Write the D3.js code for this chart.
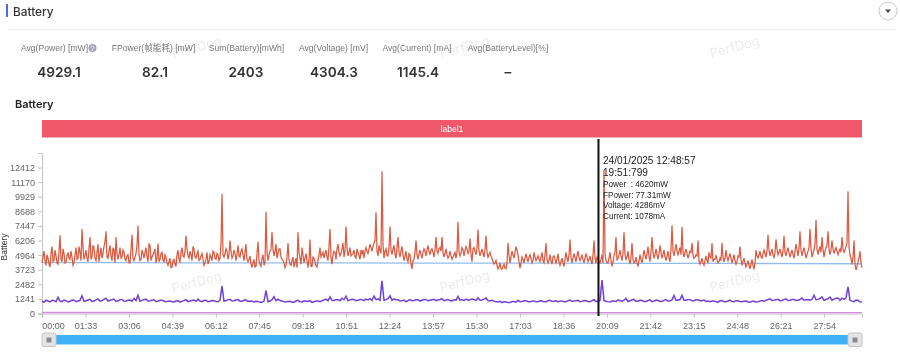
<!DOCTYPE html>
<html>
<head>
<meta charset="utf-8">
<script src="https://cdn.jsdelivr.net/npm/d3@7"></script>
<style>
  html, body { margin: 0; padding: 0; background: #fff; overflow: hidden; }
  svg { display: block; filter: blur(0.35px); }
  text { font-family: "Liberation Sans", sans-serif; }
  .ui { font-family: Inter, "Noto Sans CJK SC", sans-serif; }
</style>
</head>
<body>
<script>
// chart data
const xTickLabels = ["00:00","01:33","03:06","04:39","06:12","07:45","09:18","10:51","12:24","13:57","15:30","17:03","18:36","20:09","21:42","23:15","24:48","26:21","27:54"];
const yTicks = [0,1241,2482,3723,4964,6206,7447,8688,9929,11170,12412];
const durationSec = 1755;
const cursorSec = 1191;

const metricNames = ["Avg(Power) [mW]","FPower(帧能耗) [mW]","Sum(Battery)[mWh]","Avg(Voltage) [mV]","Avg(Current) [mA]","Avg(BatteryLevel)[%]"];
const metricValues = ["4929.1","82.1","2403","4304.3","1145.4","–"];
const tipLines = ["24/01/2025 12:48:57","19:51:799","Power  : 4620mW","FPower: 77.31mW","Voltage: 4286mV","Current: 1078mA"];

// samples on even pixels of the trace
const powerA = [
4300,5300,4100,4700,3950,5700,4500,4900,4200,6650,4400,5100,4350,5200,4600,4800,4300,5600,4700,5200,
7180,4600,5400,4400,6500,4800,5600,4500,5900,5000,4700,5700,7000,4700,5800,4500,5400,6500,4600,5600,
4800,5200,4500,5000,4300,6700,4500,5100,7460,4500,5400,4700,5600,4400,5800,4800,5200,4300,5950,4600,
5200,4400,4800,4100,4700,3950,4600,4000,5400,4400,5600,4800,6600,4900,5300,4500,5500,4700,5300,4600,
5100,4100,4600,4200,5000,4500,5200,4600,5000,4700,10160,4800,5500,4600,6200,4700,5400,4500,5800,4800,
5500,4500,5900,4400,4900,3900,4600,4000,6100,4200,4700,4100,8650,4500,5300,6900,4900,5900,5100,5500,
4600,4300,4100,6000,4200,4500,3950,4700,6900,4700,5600,4300,5100,3900,6300,4000,4700,4050,4500,5600,
5000,4700,5400,4500,7180,4200,5300,4600,5900,4900,5500,4800,7400,4900,5600,5000,5400,4700,5200,4600,
5100,4700,5600,5100,5900,5300,6000,8600,4900,5400,12100,4700,5500,4900,7400,5000,5800,4700,6500,4800,
5700,4500,5300,4400,5000,3800,4600,6200,4600,5400,4700,5500,4900,5800,5000,5500,4800,6500,5100,5600,
6500,4800,5500,4700,5300,4600,5000,4700,7800,4900,5600,4900,5700,5100,6400,4400,5600,5000,7150,4900,
5500,4800,6600,4800,5200,4700,4200,4500,3800,4300,3750,4200,3800,6000,4300,5300,4700,5700,5000,3850,
4800,4300,5100,4400,5000,4300,5200,4500,4900,4400,5200,4300,6000,4300,5000,4200,4900,4300,5100,4100,
4700,4000,5200,4400,6300,4300,5100,4400,5300,4500,5000,4300,5100,4400,4900,4200,6200,4300,4620,4300,
5000,12200,4500,4300,5200,4000,4900,6500,4700,5400,4500,6900,4600,5300,4200,6000,4300,4800,4000,5000,
4300,5400,4600,5700,4400,6500,4700,5500,4600,5800,4700,5400,4500,5300,4400,7500,4900,5900,5000,5600,
7350,4800,5500,4700,5300,6000,4700,5000,6200,4200,4700,4100,4900,4300,4800,6000,4600,4900,4300,4700,
6000,4400,5400,4500,5100,4300,5000,4200,4900,5700,4100,4700,3950,4500,3800,4600,3750,5400,4700,5300,
4700,5400,4800,6700,4900,5500,4700,6300,5000,5500,4800,6600,4900,5600,4800,5400,4700,5900,4900,7000,
4900,5600,4700,5300,7200,4800,5400,7950,5000,5700,6500,4800,5600,7000,5000,6200,5100,5600,5000,5500,
6500,5200,5700,10400,5000,4200,6200,3700,4400,5300,3900
];
// samples on odd pixels of the trace
const powerB = [
4800,4500,5000,4200,5100,4400,5400,4300,5200,4600,5500,4300,4900,4700,5300,4100,5000,4600,5700,4500,
5600,4900,4700,5500,4600,5800,4700,5200,4400,5600,5100,6100,4800,5300,4900,5600,4300,5100,5000,4700,
5400,4600,4900,4300,5500,4700,4800,5800,5000,4600,5100,5200,4800,5900,4500,5000,5500,4700,4400,5100,
4500,5000,4300,4400,3900,4500,4200,5000,4600,5200,4900,5300,5500,4700,5000,5700,4800,5100,4500,4900,
4600,4300,5200,4400,4800,5300,4700,5100,4500,5900,5000,5100,5300,5000,5300,4900,5100,5000,4900,5300,
5000,5200,4600,4600,4200,4300,3950,5100,4500,4000,5000,4300,5200,5000,5400,5500,5300,4700,5500,4800,
4500,3900,4800,4600,4100,4800,4300,3900,5200,4200,5000,4700,4500,4600,4000,4800,4400,3950,5000,4800,
5200,5100,4800,5700,4700,5000,5200,5500,5200,5100,6000,5300,5600,5200,4900,5100,4800,5500,4900,5400,
5400,5300,5300,5500,5600,5700,6200,5300,5800,5100,5900,5300,4900,5600,5400,5500,5000,5600,5200,5300,
5000,4900,4600,5100,4200,4500,5200,5000,5100,5000,5200,5300,5400,5300,5400,5200,5400,5300,5500,5300,
5200,5100,5000,4900,4900,4800,5200,5200,5300,5100,5400,5300,5500,5300,5000,5500,5300,5600,5300,5200,
5100,5400,5200,5000,4900,4400,4300,4100,4000,3800,4000,3850,4300,5000,4800,5000,5200,5400,4400,4300,
4600,4700,4700,4800,4700,4500,4800,4700,4600,4800,4500,5000,4600,4500,4500,4800,4600,4600,4400,4400,
4300,4600,4700,5000,4800,4700,4800,4900,4800,4700,4600,4700,4800,4600,4500,5000,4700,4800,4400,4600,
4300,5100,4300,4700,4500,4400,5200,4500,5000,4900,5100,5000,4800,4600,4800,4600,4400,4300,4500,4600,
4800,5000,5100,4900,5300,5200,5000,5000,5100,5200,5000,4800,4900,4700,5500,5300,5400,5300,5300,5000,
5200,5200,5100,5000,5200,5000,4800,4900,4500,4400,4300,4500,4500,5200,4700,4400,4600,4600,4400,4500,
4800,4700,4800,4800,4700,4600,4500,4400,4800,4600,4400,4300,4200,4100,4200,4100,4300,4900,5000,4800,
5100,5100,5300,5400,5200,5000,5200,5500,5200,5100,5300,5200,5300,5200,5100,5000,5300,5400,5500,5400,
5300,5200,5000,5600,5500,5100,5900,5500,5400,5200,5500,5300,5800,5500,5400,5500,5400,5300,5300,5200,
5500,5400,6000,5700,4700,4800,4200,4000,4700,4300
];

const currentA = [
1050,1130,980,1090,1380,1010,1100,1040,1130,1060,1500,1080,1210,1060,1240,1100,1300,1120,1230,1080,
1190,1060,1150,1290,1560,1120,1220,1090,1160,1050,1130,1000,1060,980,1090,1030,1180,1060,1140,1220,
1010,1120,1040,1090,1000,2320,1110,1200,1090,1180,1040,1160,1060,980,1030,960,1950,1060,1420,1220,
1070,980,1050,960,1120,970,1050,1100,1000,1060,1090,1220,1420,1110,1180,1300,1480,1160,1200,1130,
1180,1220,1270,1480,1240,2780,1180,1500,1240,1170,1090,1000,1180,1110,1170,1130,1180,1130,1210,1150,
1260,1140,1100,1180,1460,1180,1230,1170,1190,1340,1150,1320,1090,1050,970,930,980,930,1020,1120,
1010,1090,1000,1070,990,1060,1000,1130,1040,1000,1070,990,1150,1060,1120,1030,1090,1010,1170,1060,
2850,1050,980,1060,1160,1050,1290,1080,1200,1040,1100,1030,1160,1060,1100,1040,1190,1080,1530,1150,
1540,1130,1180,1090,1160,1080,1030,1000,1070,970,1110,1000,1130,1010,1080,1010,1060,950,1040,1000,
1100,1120,1250,1130,1210,1110,1250,1130,1200,1120,1320,1160,1130,1550,1200,1420,1190,1400,1220,1310,
1300,1340,1120,1010,1120,980
];
const currentB = [
960,1060,1120,1000,1060,1150,990,1140,1010,1120,1030,1150,1020,1160,1050,1200,1060,1170,1030,1180,
1040,1120,1050,1100,1040,1180,1060,1130,1020,1120,1060,1050,990,1060,970,1120,1010,1100,1030,1060,
1100,1000,1110,1020,1130,1060,1160,1060,1150,1050,1130,1020,1050,1040,950,1060,1000,1170,1090,1100,
1000,1030,960,1060,990,1080,1020,950,1070,1000,1150,1080,1100,1180,1090,1170,1090,1210,1080,1190,
1090,1160,1120,1180,1110,1130,1260,1120,1170,1070,1150,1090,1080,1170,1060,1190,1080,1170,1100,1190,
1090,1180,1070,1120,1130,1090,1130,1230,1100,1130,1220,1080,1130,990,1040,1000,930,1020,960,1000,
1080,1000,1050,990,1080,990,1090,1030,1080,1050,990,1090,1020,1080,1010,1100,1020,1090,1010,1100,
1100,1010,1060,1020,1090,1130,1020,1170,1040,1120,1020,1110,1010,1140,1030,1120,1040,1160,1110,1190,
1120,1190,1090,1170,1090,1140,1060,1060,1000,1080,1000,1060,1020,1090,1020,1050,980,1040,980,1050,
1040,1190,1100,1180,1090,1200,1100,1190,1110,1190,1130,1190,1210,1170,1270,1120,1250,1130,1290,1120,
1200,2260,1050,1150,1000
];

const voltage = [4325,4320,4310,4300,4300,4290,4280,4286,4270,4260,4250,4230];
const fpower = [84,83,82,82,81,82,82,80,81,80,79,78];

const interleave = (a, b)=>d3.merge(a.map((v,i)=>i < b.length ? [v, b[i]] : [v]));
const power = interleave(powerA, powerB);
const current = interleave(currentA, currentB);

const w = 900, h = 352;
const m = {left: 42, right: 862, top: 153, bottom: 313.5};

const svg = d3.select("body").append("svg").attr("width", w).attr("height", h);

const x = d3.scaleLinear().domain([0, durationSec]).range([m.left, m.right]);
const y = d3.scaleLinear().domain([0, 13651]).range([m.bottom, m.top]);

// header
svg.append("rect").attr("x", 6).attr("y", 4).attr("width", 2).attr("height", 13).attr("fill", "#4a6ee0");
svg.append("text").attr("class", "ui").attr("x", 13).attr("y", 15.5).attr("font-size", 11.8).attr("font-weight", 500).attr("fill", "#333").text("Battery");
svg.append("line").attr("x1", 8).attr("x2", 896).attr("y1", 29.5).attr("y2", 29.5).attr("stroke", "#eeeeee");
svg.append("circle").attr("cx", 888).attr("cy", 11).attr("r", 9).attr("fill", "#fff").attr("stroke", "#c8c8c8");
svg.append("path").attr("d", "M885,9.5h6l-3,3.5z").attr("fill", "#444");

// watermarks
const marks = [[197,48],[465,48],[735,48],[197,283],[465,282],[735,282]];
svg.selectAll(".mark").data(marks).enter().append("text")
    .attr("class", "ui mark")
    .attr("transform", (d)=>`translate(${d[0]},${d[1]}) rotate(-15)`)
    .attr("text-anchor", "middle")
    .attr("dominant-baseline", "middle")
    .attr("font-size", 13)
    .attr("fill", "#ececec")
    .text("PerfDog");

// metric row
const metricX = [59,155,246,334,418,508];
const labelX = [54.5,153.5,246.5,333.5,417,508];
svg.selectAll(".mname").data(metricNames).enter().append("text")
    .attr("class", "mname")
    .attr("x", (d,i)=>labelX[i]).attr("y", 51)
    .attr("text-anchor", "middle").attr("font-size", 8.6).attr("fill", "#777")
    .style("font-family", '"Liberation Sans", "Noto Sans CJK SC", sans-serif')
    .text((d)=>d);
svg.selectAll(".mval").data(metricValues).enter().append("text")
    .attr("class", "ui mval")
    .attr("x", (d,i)=>metricX[i]).attr("y", 77)
    .attr("text-anchor", "middle").attr("font-size", 13.6).attr("font-weight", 600).attr("fill", "#333")
    .text((d)=>d);
svg.append("circle").attr("cx", 92.5).attr("cy", 48).attr("r", 4).attr("fill", "#a9a9b5");
svg.append("text").attr("x", 92.5).attr("y", 50.5).attr("text-anchor", "middle").attr("font-size", 7).attr("fill", "#fff").text("?");

svg.append("text").attr("class", "ui").attr("x", 15).attr("y", 108).attr("font-size", 11).attr("font-weight", 600).attr("fill", "#222").text("Battery");

// label band
svg.append("rect").attr("x", m.left).attr("y", 120).attr("width", m.right - m.left).attr("height", 17.5).attr("fill", "#ef5868");
svg.append("text").attr("x", (m.left + m.right) / 2).attr("y", 132).attr("text-anchor", "middle").attr("font-size", 8.5).attr("fill", "#fff").text("label1");

// axes
const toSec = (s)=>+s.slice(0,2)*60 + +s.slice(3);
const xAxis = d3.axisBottom(x).tickValues(xTickLabels.map(toSec)).tickFormat((d,i)=>xTickLabels[i]).tickSizeOuter(0).tickSize(4);
const yAxis = d3.axisLeft(y).tickValues(yTicks).tickFormat((d)=>d).tickSizeOuter(0).tickSize(4);

const gx = svg.append("g").attr("transform", `translate(0,${m.bottom})`).call(xAxis);
const gy = svg.append("g").attr("transform", `translate(${m.left},0)`).call(yAxis);
[gx, gy].forEach((g)=>{
    g.selectAll("path,line").attr("stroke", "#c4c4c4");
    g.selectAll("text").attr("fill", "#666").attr("font-size", 9).attr("font-family", "Liberation Sans");
});
gx.selectAll("text").attr("dy", "0.95em");
gx.selectAll("text").filter((d,i)=>i===0).attr("dx", 11);
gy.selectAll("text").attr("x", -7);

svg.append("text")
    .attr("transform", "translate(7,247) rotate(-90)")
    .attr("text-anchor", "middle").attr("font-size", 8.5).attr("fill", "#333")
    .text("Battery");

// series
const drawLine = (vals, color, width, op)=>{
    const line = d3.line()
        .x((d,i)=>x(i * durationSec / (vals.length - 1)))
        .y((d)=>y(d));
    svg.append("path").datum(vals)
        .attr("fill", "none").attr("stroke", color)
        .attr("stroke-width", width).attr("stroke-opacity", op)
        .attr("d", line);
};
drawLine(voltage, "#8fbeee", 1.3, 1);
drawLine(fpower, "#d78ae0", 1.3, 1);
drawLine(power, "#dd5a42", 1.25, 1);
drawLine(current, "#7040d8", 1.5, 1);

// cursor and its tooltip
svg.append("line").attr("x1", x(cursorSec)).attr("x2", x(cursorSec)).attr("y1", 139).attr("y2", 316)
    .attr("stroke", "#111").attr("stroke-width", 2);
const tipY = [163.5,175.5,186.5,197.5,207.5,218.5];
const tipSize = [10.1,10.1,8.2,8.2,8.2,8.2];
svg.selectAll(".tip").data(tipLines).enter().append("text")
    .attr("class", "tip")
    .attr("x", x(cursorSec) + 4.5).attr("y", (d,i)=>tipY[i])
    .attr("font-size", (d,i)=>tipSize[i]).attr("fill", "#222")
    .style("white-space", "pre")
    .text((d)=>d);

// slider
const sliderY = 335, sliderH = 9.5;
svg.append("rect").attr("x", m.left).attr("y", sliderY).attr("width", m.right - m.left).attr("height", sliderH).attr("fill", "#3fb1f6");
[[42,56],[848,862]].forEach((r)=>{
    svg.append("rect").attr("x", r[0]).attr("y", 333).attr("width", r[1]-r[0]).attr("height", 13.5).attr("rx", 2)
        .attr("fill", "#e4e4e4").attr("stroke", "#c4c4c4");
    svg.append("rect").attr("x", (r[0]+r[1])/2-2.5).attr("y", 337.5).attr("width", 5).attr("height", 5).attr("fill", "#8b8b8b");
});
</script>
</body>
</html>
